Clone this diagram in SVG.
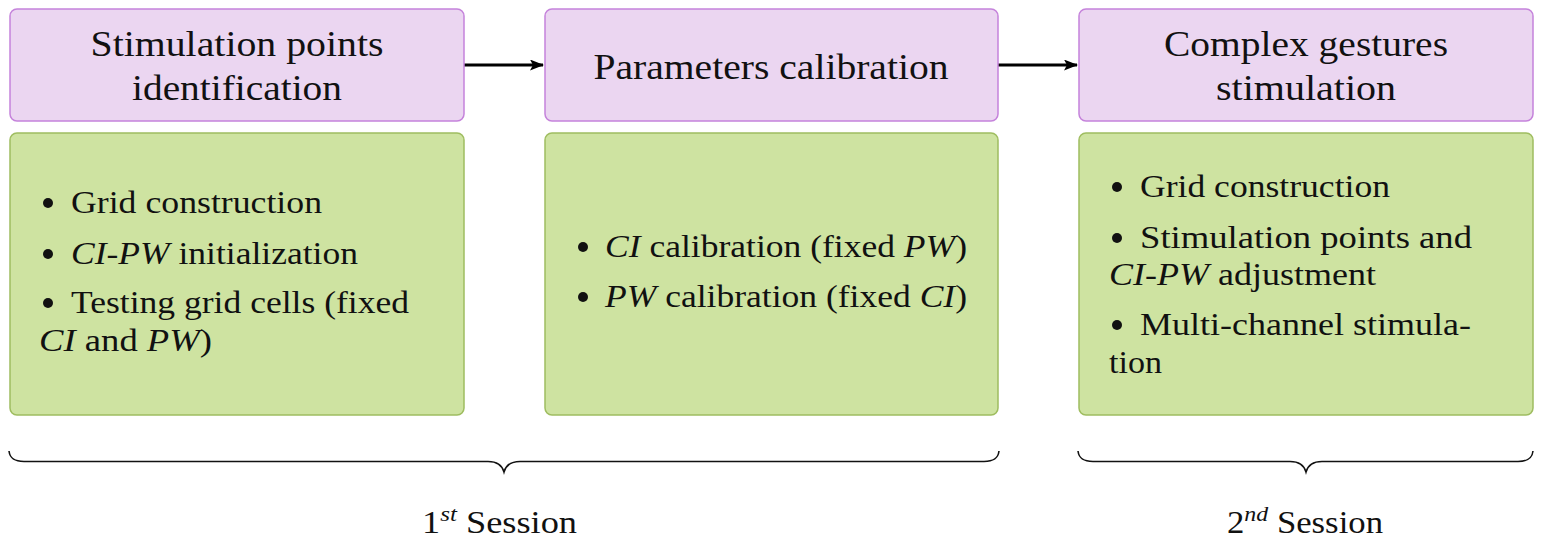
<svg xmlns="http://www.w3.org/2000/svg" width="1542" height="541" viewBox="0 0 1542 541">
<style>
.head{fill:#EBD6F1;stroke:#C583DB;stroke-width:1.5}
.body{fill:#CEE3A1;stroke:#9FBD60;stroke-width:1.5}
text{font-family:"Liberation Serif","Times New Roman",serif;fill:#111}
.t{font-size:36px;text-anchor:middle}
.b{font-size:32px}
.s{font-size:32px}
.i{font-style:italic}
.dot{fill:#111}
.brace{fill:none;stroke:#111;stroke-width:1.6}
.conn{stroke:#000;stroke-width:2.8;fill:none}
</style>
<defs>
<marker id="ah" markerWidth="16" markerHeight="12" refX="13" refY="5.5" orient="auto" markerUnits="userSpaceOnUse">
<path d="M0,0 L14,5.5 L0,11 L3,5.5 Z" fill="#000"/>
</marker>
</defs>

<g id="connectors">
<line class="conn" x1="464" y1="65" x2="543" y2="65" marker-end="url(#ah)"/>
<line class="conn" x1="998" y1="65" x2="1077" y2="65" marker-end="url(#ah)"/>
</g>

<g id="step1">
<rect class="head" x="10" y="9" width="454" height="112" rx="7"/>
<text class="t" x="237" y="56" textLength="293" lengthAdjust="spacingAndGlyphs">Stimulation points</text>
<text class="t" x="237" y="100" textLength="210" lengthAdjust="spacingAndGlyphs">identification</text>
</g>
<g id="details1">
<rect class="body" x="10" y="133" width="454" height="282" rx="7"/>
<circle class="dot" cx="48" cy="203" r="5"/>
<text class="b" x="71" y="213" textLength="251" lengthAdjust="spacingAndGlyphs">Grid construction</text>
<circle class="dot" cx="48" cy="254" r="5"/>
<text class="b" x="71" y="264" textLength="287" lengthAdjust="spacingAndGlyphs"><tspan class="i">CI</tspan>-<tspan class="i">PW</tspan> initialization</text>
<circle class="dot" cx="48" cy="303" r="5"/>
<text class="b" x="71" y="313" textLength="338" lengthAdjust="spacingAndGlyphs">Testing grid cells (fixed</text>
<text class="b" x="39" y="351" textLength="173" lengthAdjust="spacingAndGlyphs"><tspan class="i">CI</tspan> and <tspan class="i">PW</tspan>)</text>
</g>

<g id="step2">
<rect class="head" x="545" y="9" width="453" height="112" rx="7"/>
<text class="t" x="771" y="79" textLength="355" lengthAdjust="spacingAndGlyphs">Parameters calibration</text>
</g>
<g id="details2">
<rect class="body" x="545" y="133" width="453" height="282" rx="7"/>
<circle class="dot" cx="583" cy="247" r="5"/>
<text class="b" x="605" y="257" textLength="362" lengthAdjust="spacingAndGlyphs"><tspan class="i">CI</tspan> calibration (fixed <tspan class="i">PW</tspan>)</text>
<circle class="dot" cx="583" cy="297" r="5"/>
<text class="b" x="605" y="307" textLength="362" lengthAdjust="spacingAndGlyphs"><tspan class="i">PW</tspan> calibration (fixed <tspan class="i">CI</tspan>)</text>
</g>

<g id="step3">
<rect class="head" x="1079" y="9" width="454" height="112" rx="7"/>
<text class="t" x="1306" y="56" textLength="284" lengthAdjust="spacingAndGlyphs">Complex gestures</text>
<text class="t" x="1306" y="100" textLength="180" lengthAdjust="spacingAndGlyphs">stimulation</text>
</g>
<g id="details3">
<rect class="body" x="1079" y="133" width="454" height="282" rx="7"/>
<circle class="dot" cx="1117" cy="187" r="5"/>
<text class="b" x="1140" y="197" textLength="250" lengthAdjust="spacingAndGlyphs">Grid construction</text>
<circle class="dot" cx="1117" cy="238" r="5"/>
<text class="b" x="1140" y="248" textLength="332" lengthAdjust="spacingAndGlyphs">Stimulation points and</text>
<text class="b" x="1109" y="285" textLength="267" lengthAdjust="spacingAndGlyphs"><tspan class="i">CI</tspan>-<tspan class="i">PW</tspan> adjustment</text>
<circle class="dot" cx="1117" cy="325" r="5"/>
<text class="b" x="1140" y="335" textLength="331" lengthAdjust="spacingAndGlyphs">Multi-channel stimula-</text>
<text class="b" x="1109" y="373" textLength="53" lengthAdjust="spacingAndGlyphs">tion</text>
</g>

<g id="session1">
<path class="brace" d="M9,451 C10,459 15,461.5 24,461.5 L488,461.5 C497,461.5 502,465 504,472 C506,465 511,461.5 520,461.5 L984,461.5 C993,461.5 998,459 999,451"/>
<text class="s" x="422" y="533" textLength="155" lengthAdjust="spacingAndGlyphs">1<tspan class="i" font-size="22" dy="-12">st</tspan><tspan dy="12"> Session</tspan></text>
</g>
<g id="session2">
<path class="brace" d="M1078,451 C1079,459 1084,461.5 1093,461.5 L1290,461.5 C1299,461.5 1304,465 1306,472 C1308,465 1313,461.5 1322,461.5 L1518,461.5 C1527,461.5 1532,459 1533,451"/>
<text class="s" x="1227" y="533" textLength="156" lengthAdjust="spacingAndGlyphs">2<tspan class="i" font-size="22" dy="-12">nd</tspan><tspan dy="12"> Session</tspan></text>
</g>
</svg>
